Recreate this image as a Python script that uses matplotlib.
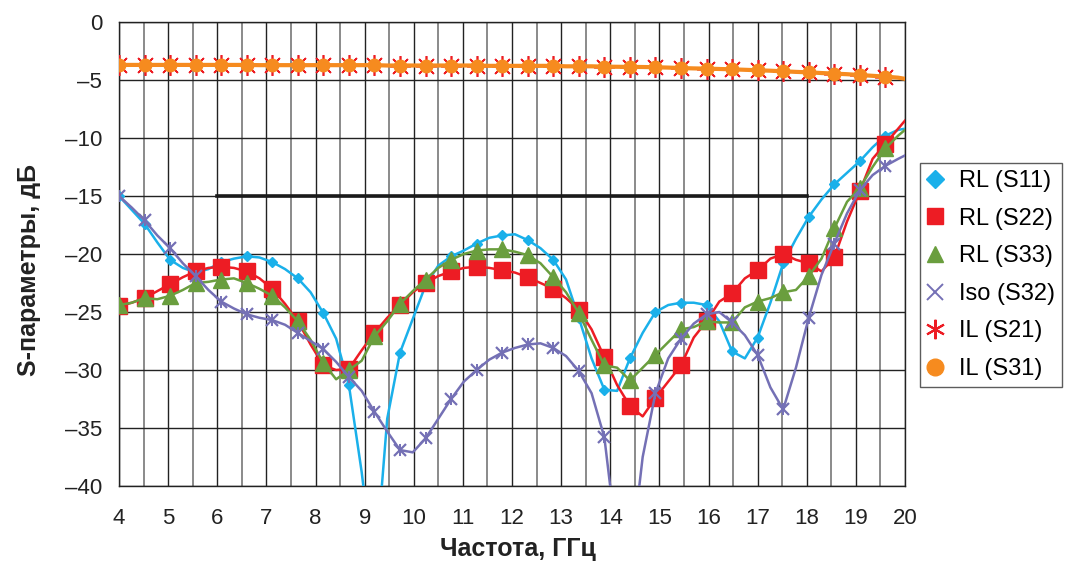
import matplotlib
matplotlib.use("Agg")
import matplotlib.pyplot as plt
from matplotlib.lines import Line2D
import numpy as np

plt.rcParams['font.family'] = ['Liberation Sans', 'DejaVu Sans']

# Frequency grid (GHz)
freq = [4.00, 4.26, 4.52, 4.78, 5.04, 5.30, 5.56, 5.82, 6.08, 6.34,
        6.60, 6.86, 7.12, 7.38, 7.64, 7.90, 8.16, 8.42, 8.68, 8.94,
        9.20, 9.46, 9.72, 9.98, 10.24, 10.50, 10.76, 11.02, 11.28, 11.54,
        11.80, 12.06, 12.32, 12.58, 12.84, 13.10, 13.36, 13.62, 13.88, 14.14,
        14.40, 14.66, 14.92, 15.18, 15.44, 15.70, 15.96, 16.22, 16.48, 16.74,
        17.00, 17.26, 17.52, 17.78, 18.04, 18.30, 18.56, 18.82, 19.08, 19.34,
        19.60, 19.86, 20.00]

rl_s11 = [-15.0, -16.2, -17.4, -19.0, -20.5, -21.2, -21.6, -21.3, -20.7, -20.4,
          -20.2, -20.3, -20.7, -21.3, -22.1, -23.3, -25.1, -27.3, -31.3, -38.8,
          -48.0, -34.2, -28.5, -25.6, -22.7, -21.0, -20.2, -19.7, -19.1, -18.6,
          -18.4, -18.3, -18.8, -19.5, -20.5, -22.2, -25.5, -29.0, -31.7, -31.8,
          -29.0, -26.8, -25.0, -24.4, -24.2, -24.2, -24.4, -25.8, -28.4, -29.0,
          -27.2, -24.2, -20.8, -18.7, -16.8, -15.3, -14.0, -13.0, -12.0, -10.8,
          -9.8, -9.3, -9.2]

rl_s22 = [-24.5, -24.2, -23.8, -23.2, -22.6, -22.0, -21.5, -21.2, -21.1, -21.2,
          -21.5, -22.1, -23.0, -24.3, -25.8, -27.8, -29.6, -30.0, -29.9, -28.3,
          -26.8, -25.5, -24.4, -23.3, -22.5, -21.9, -21.5, -21.2, -21.1, -21.2,
          -21.4, -21.6, -22.0, -22.5, -23.0, -23.8, -24.8, -26.5, -28.9, -31.3,
          -33.1, -34.0, -32.4, -31.0, -29.6, -27.2, -25.8, -24.1, -23.4, -22.1,
          -21.4, -20.4, -20.0, -20.5, -20.8, -21.5, -20.3, -17.2, -14.6, -11.8,
          -10.5, -9.2, -8.5]

rl_s33 = [-24.4, -24.2, -23.8, -23.9, -23.6, -23.1, -22.5, -22.4, -22.2, -22.1,
          -22.5, -23.0, -23.6, -24.6, -25.8, -27.4, -29.4, -30.8, -30.0, -29.2,
          -27.1, -25.8, -24.3, -23.2, -22.2, -21.2, -20.5, -20.0, -19.7, -19.6,
          -19.6, -19.8, -20.1, -20.8, -22.0, -23.3, -25.1, -27.4, -29.6, -29.8,
          -30.9, -29.8, -28.7, -27.6, -26.5, -26.3, -25.8, -25.9, -25.9, -24.6,
          -24.1, -23.8, -23.3, -23.1, -21.9, -20.4, -17.8, -15.5, -14.3, -12.5,
          -10.9, -9.8, -9.3]

iso_s32 = [-15.0, -16.0, -17.1, -18.4, -19.5, -20.8, -21.9, -23.1, -24.1, -24.7,
           -25.2, -25.5, -25.7, -26.1, -26.8, -27.5, -28.2, -29.3, -30.6, -31.8,
           -33.6, -35.3, -36.9, -37.1, -35.9, -34.2, -32.5, -31.0, -30.0, -29.1,
           -28.5, -28.1, -27.8, -27.7, -28.1, -28.8, -30.1, -32.0, -35.8, -45.0,
           -47.0, -37.5, -32.0, -29.0, -27.3, -26.0, -25.2, -25.0, -25.9, -27.0,
           -28.7, -31.5, -33.4, -29.8, -25.5, -21.8, -19.1, -16.5, -14.5, -13.2,
           -12.4, -11.8, -11.5]

il_s21 = [-3.70, -3.70, -3.70, -3.70, -3.70, -3.70, -3.70, -3.70, -3.70, -3.70,
          -3.70, -3.72, -3.72, -3.72, -3.72, -3.72, -3.72, -3.72, -3.72, -3.72,
          -3.72, -3.75, -3.75, -3.75, -3.75, -3.75, -3.75, -3.75, -3.75, -3.78,
          -3.78, -3.78, -3.78, -3.78, -3.78, -3.82, -3.82, -3.82, -3.85, -3.86,
          -3.87, -3.88, -3.90, -3.93, -3.97, -4.00, -4.02, -4.05, -4.08, -4.12,
          -4.16, -4.20, -4.25, -4.30, -4.34, -4.40, -4.45, -4.50, -4.57, -4.64,
          -4.71, -4.80, -4.90]

il_s31 = [-3.70, -3.70, -3.70, -3.70, -3.70, -3.70, -3.70, -3.70, -3.70, -3.70,
          -3.70, -3.72, -3.72, -3.72, -3.72, -3.72, -3.72, -3.72, -3.72, -3.72,
          -3.72, -3.75, -3.75, -3.75, -3.75, -3.75, -3.75, -3.75, -3.75, -3.78,
          -3.78, -3.78, -3.78, -3.78, -3.78, -3.82, -3.82, -3.82, -3.85, -3.86,
          -3.87, -3.88, -3.90, -3.93, -3.97, -4.00, -4.02, -4.05, -4.08, -4.12,
          -4.16, -4.20, -4.25, -4.30, -4.34, -4.40, -4.45, -4.50, -4.57, -4.64,
          -4.71, -4.80, -4.90]

spec_f = [6.0, 18.0]
spec_db = [-15.0, -15.0]

labels = ['RL (S11)', 'RL (S22)', 'RL (S33)', 'Iso (S32)', 'IL (S21)', 'IL (S31)']
x_ticks = list(range(4, 21))
y_ticks = [0, -5, -10, -15, -20, -25, -30, -35, -40]

c_s11 = '#1AB0EA'
c_s22 = '#ED1C24'
c_s33 = '#6A9E3E'
c_iso = '#7470B5'
c_il21 = '#ED1C24'
c_il31 = '#F68B1F'

fig = plt.figure(figsize=(10.68, 5.63), dpi=100)
ax = fig.add_axes([119/1068, 1-486/563, (905-119)/1068, (486-22)/563])

ax.set_xlim(4, 20)
ax.set_ylim(-40, 0)
ax.set_xticks(x_ticks)
ax.set_xticks(np.arange(4.5, 20, 1.0), minor=True)
ax.set_yticks(y_ticks)
ax.set_yticklabels(['0' if v == 0 else '\u2013' + str(abs(v)) for v in y_ticks])
ax.grid(True, which='major', color='#222222', lw=1.0)
ax.grid(True, which='minor', axis='x', color='#777777', lw=1.2)
ax.tick_params(which='both', length=0, labelsize=16, colors='#222222')
ax.tick_params(axis='x', pad=16)
ax.tick_params(axis='y', pad=12)
for s in ax.spines.values():
    s.set_color('#222222')
    s.set_linewidth(1.0)
ax.set_axisbelow(True)

me = slice(0, 61, 2)
ax.plot(spec_f, spec_db, color='#1a1a1a', lw=2.6, zorder=2)
ax.plot(freq, rl_s11, color=c_s11, lw=1.8, marker='D', ms=5.5, markevery=me, zorder=3)
ax.plot(freq, rl_s22, color=c_s22, lw=1.8, marker='s', ms=11, markevery=me, zorder=4)
ax.plot(freq, rl_s33, color=c_s33, lw=1.8, marker='^', ms=11, markevery=me, zorder=5)
ax.plot(freq, iso_s32, color=c_iso, lw=1.8, marker='x', ms=9, mew=1.6, markevery=me, zorder=6)
ax.plot(freq, iso_s32, color=c_iso, lw=0, marker='|', ms=9, mew=1.4, markevery=me, zorder=6)
ax.plot(freq, il_s21, color=c_il21, lw=1.8, marker=(8, 2, 0), ms=15, mew=1.2, markevery=me, zorder=7)
ax.plot(freq, il_s31, color=c_il31, lw=3.0, marker='o', ms=9, mec=c_il31, markevery=me, zorder=8)

fig.text(518/1068, 1-549/563, 'Частота, ГГц', fontsize=18, fontweight='bold',
         ha='center', va='center', color='#222222')
fig.text(29/1068, 1-270/563, 'S-параметры, дБ', fontsize=18, fontweight='bold',
         ha='center', va='center', rotation=90, color='#222222')

handles = [
    Line2D([], [], ls='none', marker='D', ms=9, color=c_s11),
    Line2D([], [], ls='none', marker='s', ms=12, color=c_s22),
    Line2D([], [], ls='none', marker='^', ms=11, color=c_s33),
    Line2D([], [], ls='none', marker='x', ms=12, mew=1.4, color=c_iso),
    Line2D([], [], ls='none', marker=(6, 2, 0), ms=14, mew=1.5, color=c_il21),
    Line2D([], [], ls='none', marker='o', ms=12, color=c_il31),
]
leg = fig.legend(handles, labels, loc='upper left', bbox_to_anchor=(920/1068, 1-163/563),
                 fontsize=17, frameon=True, fancybox=False, edgecolor='#333333',
                 labelspacing=0.66, handlelength=0.7, handletextpad=0.65, borderpad=0.3,
                 borderaxespad=0)
leg.get_frame().set_linewidth(1.0)

fig.savefig('out.png', dpi=100)
